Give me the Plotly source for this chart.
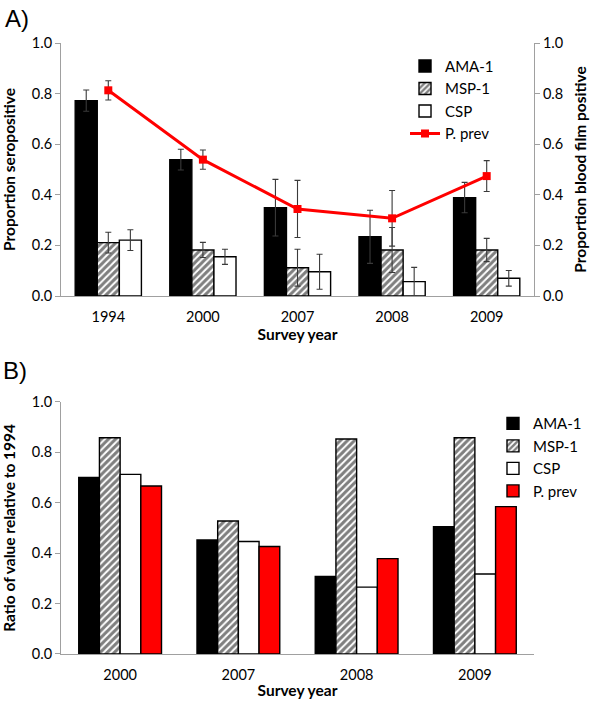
import plotly.graph_objects as go

# ---------------- data ----------------
years_a = ["1994", "2000", "2007", "2008", "2009"]
ama1 = [0.772, 0.539, 0.349, 0.234, 0.389]
ama1_err = [0.042, 0.041, 0.112, 0.105, 0.060]
msp1 = [0.211, 0.182, 0.112, 0.182, 0.182]
msp1_err = [0.041, 0.030, 0.073, 0.089, 0.046]
csp = [0.221, 0.155, 0.096, 0.057, 0.070]
csp_err = [0.041, 0.030, 0.069, 0.056, 0.031]
pprev = [0.813, 0.539, 0.344, 0.307, 0.474]
pprev_err = [0.038, 0.038, 0.113, 0.110, 0.061]

years_b = ["2000", "2007", "2008", "2009"]
ratio_ama1 = [0.700, 0.452, 0.307, 0.505]
ratio_msp1 = [0.857, 0.527, 0.852, 0.857]
ratio_csp = [0.712, 0.446, 0.265, 0.317]
ratio_pprev = [0.666, 0.426, 0.378, 0.584]

y_ticks = [0.0, 0.2, 0.4, 0.6, 0.8, 1.0]

# ---------------- styles ----------------
FONT = "Lato"
AX = "#a0a0a0"
ERR = "#3a3a3a"
OUTLINE = dict(color="black", width=1.4)
hatch = dict(shape="/", fgcolor="black", bgcolor="white", size=5, solidity=0.6)
TICK = dict(family=FONT, size=14.5, color="black")
TITLE = dict(family=FONT, size=15.5, color="black")
LEG = dict(family=FONT, size=15, color="black")

def err(vals):
    return dict(type="data", array=vals, visible=True, color=ERR, thickness=1.1, width=3)

fig = go.Figure()

# Panel A
fig.add_trace(go.Bar(x=years_a, y=ama1, name="AMA-1", marker=dict(color="black", line=OUTLINE),
                     error_y=err(ama1_err), xaxis="x", yaxis="y", legend="legend"))
fig.add_trace(go.Bar(x=years_a, y=msp1, name="MSP-1", marker=dict(color="white", pattern=hatch, line=OUTLINE),
                     error_y=err(msp1_err), xaxis="x", yaxis="y", legend="legend"))
fig.add_trace(go.Bar(x=years_a, y=csp, name="CSP", marker=dict(color="white", line=OUTLINE),
                     error_y=err(csp_err), xaxis="x", yaxis="y", legend="legend"))
fig.add_trace(go.Scatter(x=years_a, y=pprev, name="P. prev", mode="lines+markers",
                         line=dict(color="#ff0000", width=3),
                         marker=dict(symbol="square", size=8, color="#ff0000"),
                         error_y=err(pprev_err), xaxis="x", yaxis="y2", legend="legend"))

# Panel B
fig.add_trace(go.Bar(x=years_b, y=ratio_ama1, name="AMA-1", marker=dict(color="black", line=OUTLINE),
                     xaxis="x2", yaxis="y3", legend="legend2"))
fig.add_trace(go.Bar(x=years_b, y=ratio_msp1, name="MSP-1", marker=dict(color="white", pattern=hatch, line=OUTLINE),
                     xaxis="x2", yaxis="y3", legend="legend2"))
fig.add_trace(go.Bar(x=years_b, y=ratio_csp, name="CSP", marker=dict(color="white", line=OUTLINE),
                     xaxis="x2", yaxis="y3", legend="legend2"))
fig.add_trace(go.Bar(x=years_b, y=ratio_pprev, name="P. prev", marker=dict(color="#ff0000", line=OUTLINE),
                     xaxis="x2", yaxis="y3", legend="legend2"))

yax_common = dict(range=[0, 1], tickvals=y_ticks, tickformat=".1f", showgrid=False, zeroline=False,
                  showline=True, linecolor=AX, linewidth=1, ticks="outside", ticklen=5, tickcolor=AX,
                  tickfont=TICK, automargin=False)
xax_common = dict(showgrid=False, zeroline=False, showline=True, linecolor=AX, linewidth=1, ticks="",
                  tickfont=TICK, automargin=False, ticklabelstandoff=8)

fig.update_layout(
    width=600, height=702,
    margin=dict(l=61, r=66, t=43, b=48),
    paper_bgcolor="white", plot_bgcolor="white",
    font=dict(family=FONT, size=14, color="black"),
    barmode="group", bargap=0.3, bargroupgap=0,
    xaxis=dict(domain=[0, 1], anchor="y",
               title=dict(text="<b>Survey year</b>", standoff=2, font=TITLE),
               **xax_common),
    yaxis=dict(domain=[0.5859, 1], anchor="x",
               title=dict(text="<b>Proportion seropositive</b>", standoff=13, font=TITLE),
               **yax_common),
    yaxis2=dict(overlaying="y", side="right", anchor="x",
                title=dict(text="<b>Proportion blood film positive</b>", standoff=13, font=TITLE),
                **yax_common),
    xaxis2=dict(domain=[0, 1], anchor="y3",
                title=dict(text="<b>Survey year</b>", standoff=2, font=TITLE),
                **xax_common),
    yaxis3=dict(domain=[0, 0.4129], anchor="x2",
                title=dict(text="<b>Ratio of value relative to 1994</b>", standoff=13, font=TITLE),
                **yax_common),
    legend=dict(x=0.7273, y=0.9890, xanchor="left", yanchor="top", bgcolor="rgba(0,0,0,0)",
                font=LEG, tracegroupgap=0),
    legend2=dict(x=0.9133, y=0.4040, xanchor="left", yanchor="top", bgcolor="rgba(0,0,0,0)",
                 font=LEG, tracegroupgap=0),
    annotations=[
        dict(text="A)", x=-0.1226, y=1.0409, xref="paper", yref="paper", xanchor="left", yanchor="middle",
             showarrow=False, font=dict(family="Liberation Sans", size=24, color="black")),
        dict(text="B)", x=-0.1268, y=0.4648, xref="paper", yref="paper", xanchor="left", yanchor="middle",
             showarrow=False, font=dict(family="Liberation Sans", size=24, color="black")),
    ],
)

fig.write_html("out.html", config={"displayModeBar": False},
               post_script="document.body.style.margin='0px';")
